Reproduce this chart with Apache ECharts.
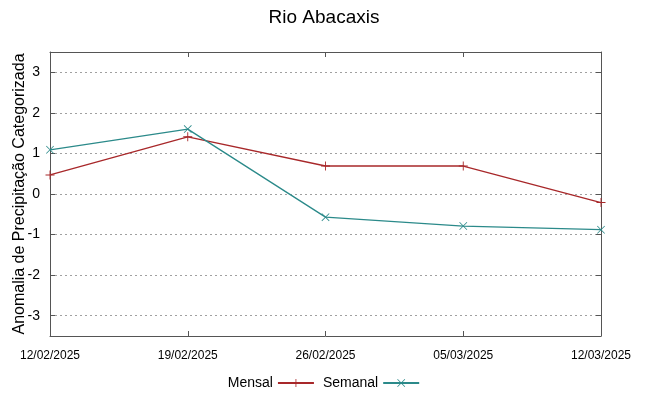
<!DOCTYPE html>
<html>
<head>
<meta charset="utf-8">
<script src="https://cdn.jsdelivr.net/npm/echarts@6/dist/echarts.min.js"></script>
<style>html,body{margin:0;padding:0;background:#fff}#c{width:648px;height:396px}</style>
</head>
<body>
<div id="c"></div>
<script>
const titleText = 'Rio Abacaxis';
const yAxisName = 'Anomalia de Precipitação Categorizada';
const categories = ['12/02/2025', '19/02/2025', '26/02/2025', '05/03/2025', '12/03/2025'];
const yTicks = [-3, -2, -1, 0, 1, 2, 3];
const mensal = [0.47, 1.41, 0.69, 0.69, -0.21];
const semanal = [1.09, 1.60, -0.57, -0.79, -0.88];

const reg = '"Liberation Sans", Arial, sans-serif';
const plusPath = 'path://M9,0 L11,0 L11,9 L20,9 L20,11 L11,11 L11,20 L9,20 L9,11 L0,11 L0,9 L9,9 Z';
const xPath = 'path://M0,1.4 L1.4,0 L20,18.6 L18.6,20 Z M18.6,0 L20,1.4 L1.4,20 L0,18.6 Z';
const frame = '#555';

const chart = echarts.init(document.getElementById('c'));
chart.setOption({
  animation: false,
  backgroundColor: '#fff',
  title: {
    text: titleText, left: 'center', top: 3,
    textStyle: { fontFamily: reg, fontSize: 19, fontWeight: 'normal', color: '#000' }
  },
  legend: {
    bottom: 1, left: 'center', align: 'right',
    itemWidth: 36, itemHeight: 10, itemGap: 8,
    textStyle: { fontFamily: reg, fontSize: 14, color: '#000' },
    data: ['Mensal', 'Semanal']
  },
  grid: { left: 50, right: 47, top: 52, bottom: 60, containLabel: false, outerBoundsMode: 'none' },
  xAxis: [{
    type: 'category', data: categories, boundaryGap: false, position: 'bottom',
    axisLine: { show: true, onZero: false, lineStyle: { color: frame, width: 1 } },
    axisTick: { show: true, inside: true, length: 5, lineStyle: { color: frame } },
    axisLabel: { fontFamily: reg, fontSize: 12, color: '#000', margin: 14, interval: 0 },
    splitLine: { show: false }
  }, {
    type: 'category', data: categories, boundaryGap: false, position: 'top',
    axisLine: { show: true, onZero: false, lineStyle: { color: frame, width: 1 } },
    axisTick: { show: true, inside: true, length: 5, lineStyle: { color: frame } },
    axisLabel: { show: false },
    splitLine: { show: false }
  }],
  yAxis: [{
    type: 'value', min: -3.5, max: 3.5, position: 'left',
    name: yAxisName, nameLocation: 'middle', nameGap: 22, nameRotate: 90, nameMoveOverlap: false,
    nameTextStyle: { fontFamily: reg, fontSize: 16, color: '#000' },
    axisLine: { show: true, onZero: false, lineStyle: { color: frame, width: 1 } },
    axisTick: { show: true, inside: true, length: 5, customValues: yTicks, lineStyle: { color: frame } },
    axisLabel: { fontFamily: reg, fontSize: 14, color: '#000', margin: 10, customValues: yTicks },
    splitLine: { show: true, lineStyle: { color: '#a0a0a0', type: [2, 3], width: 1 } }
  }, {
    type: 'value', min: -3.5, max: 3.5, position: 'right',
    axisLine: { show: true, onZero: false, lineStyle: { color: frame, width: 1 } },
    axisTick: { show: true, inside: true, length: 5, customValues: yTicks, lineStyle: { color: frame } },
    axisLabel: { show: false },
    splitLine: { show: false }
  }],
  series: [{
    name: 'Mensal', type: 'line', data: mensal,
    symbol: plusPath, symbolSize: 9, showSymbol: true,
    lineStyle: { color: '#a8282a', width: 1.3 },
    itemStyle: { color: '#a8282a' },
    z: 3
  }, {
    name: 'Semanal', type: 'line', data: semanal,
    symbol: xPath, symbolSize: 8, showSymbol: true,
    lineStyle: { color: '#2b8a8a', width: 1.3 },
    itemStyle: { color: '#2b8a8a' },
    z: 4
  }]
});
</script>
</body>
</html>
